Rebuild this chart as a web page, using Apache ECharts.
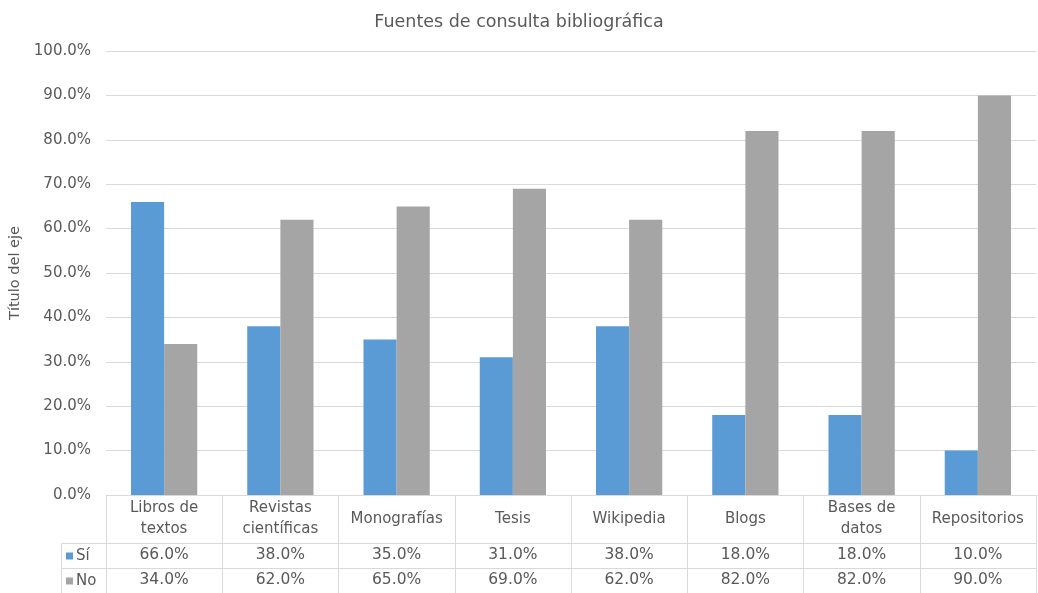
<!DOCTYPE html>
<html>
<head>
<meta charset="utf-8">
<script src="https://cdn.jsdelivr.net/npm/echarts@6/dist/echarts.min.js"></script>
<style>
  html, body { margin: 0; padding: 0; background: #fff; }
  #chart { width: 1038px; height: 593px; }
</style>
</head>
<body>
<div id="chart"></div>
<script>
// Categories and shares (%) of each answer
const categories = ['Libros de\ntextos', 'Revistas\ncientíficas', 'Monografías', 'Tesis', 'Wikipedia', 'Blogs', 'Bases de\ndatos', 'Repositorios'];
const siValues = [66, 38, 35, 31, 38, 18, 18, 10];
const noValues = [34, 62, 65, 69, 62, 82, 82, 90];
const yTicks = [0, 10, 20, 30, 40, 50, 60, 70, 80, 90, 100];

const FONT = '"DejaVu Sans", sans-serif';
const TEXT = '#595959';
const LINE = '#D9D9D9';
const pct = v => Number(v).toFixed(1) + '%';

const chart = echarts.init(document.getElementById('chart'));

chart.setOption({
  animation: false,
  textStyle: { fontFamily: FONT, color: TEXT },
  title: {
    text: 'Fuentes de consulta bibliográfica',
    left: 'center',
    top: 8,
    textStyle: { fontFamily: FONT, fontSize: 17.5, fontWeight: 'normal', color: TEXT }
  },
  legend: {
    orient: 'vertical',
    left: 66,
    top: 548,
    padding: 0,
    itemGap: 9,
    itemWidth: 7,
    itemHeight: 7,
    icon: 'rect',
    textStyle: { fontFamily: FONT, fontSize: 15, color: TEXT, lineHeight: 16, padding: [0, 0, 0, -2] },
    data: ['Sí', 'No']
  },
  grid: { left: 106, right: 2, top: 51, bottom: 98, containLabel: false, outerBoundsMode: 'none' },
  xAxis: [
    {
      type: 'category',
      data: categories,
      position: 'bottom',
      axisLine: { show: true, lineStyle: { color: LINE } },
      axisTick: { show: true, interval: 0, length: 98, lineStyle: { color: LINE } },
      axisLabel: { interval: 0, margin: 24, verticalAlign: 'middle', fontSize: 15, lineHeight: 21, color: TEXT }
    },
    {
      type: 'category',
      data: siValues.map(pct),
      position: 'bottom',
      offset: 48,
      axisLine: { show: true, lineStyle: { color: LINE } },
      axisTick: { show: false },
      axisLabel: { interval: 0, margin: 12, verticalAlign: 'middle', fontSize: 15.5, color: TEXT }
    },
    {
      type: 'category',
      data: noValues.map(pct),
      position: 'bottom',
      offset: 73,
      axisLine: { show: true, lineStyle: { color: LINE } },
      axisTick: { show: false },
      axisLabel: { interval: 0, margin: 12, verticalAlign: 'middle', fontSize: 15.5, color: TEXT }
    }
  ],
  yAxis: {
    type: 'value',
    min: yTicks[0],
    max: yTicks[yTicks.length - 1],
    interval: yTicks[1] - yTicks[0],
    name: 'Título del eje',
    nameLocation: 'middle',
    nameRotate: 90,
    nameGap: 80,
    nameTextStyle: { fontFamily: FONT, fontSize: 14.5, color: TEXT },
    axisLine: { show: false },
    axisTick: { show: false },
    axisLabel: { formatter: pct, margin: 15, fontSize: 15, color: TEXT },
    splitLine: { lineStyle: { color: LINE } }
  },
  series: [
    { name: 'Sí', type: 'bar', data: siValues, barGap: '0%', barCategoryGap: '43%', itemStyle: { color: '#5B9BD5' } },
    { name: 'No', type: 'bar', data: noValues, barGap: '0%', barCategoryGap: '43%', itemStyle: { color: '#A5A5A5' } }
  ],
  // frame of the legend column of the data table
  graphic: [
    { type: 'line', shape: { x1: 61, y1: 543.5, x2: 106, y2: 543.5 }, style: { stroke: LINE, lineWidth: 1 } },
    { type: 'line', shape: { x1: 61, y1: 568.5, x2: 106, y2: 568.5 }, style: { stroke: LINE, lineWidth: 1 } },
    { type: 'line', shape: { x1: 61.5, y1: 543, x2: 61.5, y2: 593 }, style: { stroke: LINE, lineWidth: 1 } }
  ]
});
</script>
</body>
</html>
